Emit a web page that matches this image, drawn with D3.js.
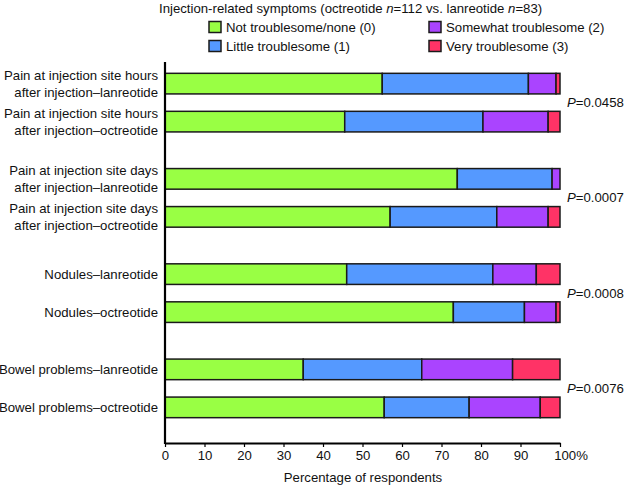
<!DOCTYPE html>
<html>
<head>
<meta charset="utf-8">
<script src="https://cdn.jsdelivr.net/npm/d3@7"></script>
<style>
  body { margin: 0; background: #fff; }
  text { font-family: "Liberation Sans", Arial, sans-serif; fill: #111; }
</style>
</head>
<body>
<svg id="chart" width="624" height="487"></svg>
<script>
// categories (top to bottom), each label split over lines
const groups = ["hours", "days", "nodules", "bowel"];
const rows = [
  { group: "hours", lines: ["Pain at injection site hours", "after injection\u2013lanreotide"] },
  { group: "hours", lines: ["Pain at injection site hours", "after injection\u2013octreotide"] },
  { group: "days", lines: ["Pain at injection site days", "after injection\u2013lanreotide"] },
  { group: "days", lines: ["Pain at injection site days", "after injection\u2013octreotide"] },
  { group: "nodules", lines: ["Nodules\u2013lanreotide"] },
  { group: "nodules", lines: ["Nodules\u2013octreotide"] },
  { group: "bowel", lines: ["Bowel problems\u2013lanreotide"] },
  { group: "bowel", lines: ["Bowel problems\u2013octreotide"] }
];

// series values (% of respondents), one entry per row
const notTroublesome = [55, 45.5, 74, 57, 46, 73, 35, 55.5];
const littleTroublesome = [37, 35, 24, 27, 37, 18, 30, 21.5];
const somewhatTroublesome = [7, 16.5, 2, 13, 11, 8, 23, 18];
const veryTroublesome = [1, 3, 0, 3, 6, 1, 12, 5];

const seriesNames = ["Not troublesome/none (0)", "Little troublesome (1)",
  "Somewhat troublesome (2)", "Very troublesome (3)"];
const seriesColors = ["#99ff44", "#5599ff", "#aa44ff", "#ff3366"];

const pValues = ["0.0458", "0.0007", "0.0008", "0.0076"];
const xTicks = [0, 10, 20, 30, 40, 50, 60, 70, 80, 90, 100];

const svg = d3.select("#chart");
const fs = 13.2;

// scales
let x = d3.scaleLinear().domain([0, 100]).range([165, 560]);
let yGroup = d3.scaleBand().domain(groups).range([55, 436]);
const barH = 20.6, rowGap = 38;

// build stacked data
const table = rows.map((r, i) => ({
  i: i,
  group: r.group,
  lines: r.lines,
  k: rows.filter((q, j) => j < i && q.group === r.group).length,
  v0: notTroublesome[i], v1: littleTroublesome[i],
  v2: somewhatTroublesome[i], v3: veryTroublesome[i]
}));
const stack = d3.stack().keys(["v0", "v1", "v2", "v3"])(table);

function rowCenter(d) {
  return yGroup(d.group) + yGroup.bandwidth() / 2 + (d.k - 0.5) * rowGap;
}

// bars
svg.append("g")
  .selectAll("g")
  .data(stack)
  .enter().append("g")
  .attr("fill", (s, j) => seriesColors[j])
  .selectAll("rect")
  .data(s => s)
  .enter().append("rect")
  .attr("x", d => x(d[0]))
  .attr("y", d => rowCenter(d.data) - barH / 2)
  .attr("width", d => x(d[1]) - x(d[0]))
  .attr("height", barH)
  .attr("stroke", "#1a1a1a")
  .attr("stroke-width", 1.5);

// row labels
let labels = svg.append("g")
  .selectAll("text")
  .data(table)
  .enter().append("text")
  .attr("text-anchor", "end")
  .attr("font-size", fs)
  .attr("x", 158)
  .attr("y", d => rowCenter(d));
labels.selectAll("tspan")
  .data(d => d.lines.map((l, j) => ({ l: l, j: j, n: d.lines.length })))
  .enter().append("tspan")
  .attr("x", 158)
  .attr("dy", t => t.j === 0 ? (t.n === 1 ? "0.35em" : "-0.3em") : "1.3em")
  .text(t => t.l);

// P values
svg.append("g")
  .selectAll("text")
  .data(groups)
  .enter().append("text")
  .attr("x", 567)
  .attr("y", (g, j) => yGroup(g) + yGroup.bandwidth() / 2)
  .attr("dy", "0.35em")
  .attr("font-size", fs)
  .each(function(g, j) {
    d3.select(this).append("tspan").attr("font-style", "italic").text("P");
    d3.select(this).append("tspan").text("=" + pValues[j]);
  });

// x axis
let xAxis = svg.append("g")
  .attr("transform", "translate(0,443)")
  .call(d3.axisBottom(x).tickValues(xTicks).tickSize(4).tickSizeOuter(0)
    .tickFormat(d => d === 100 ? "100%" : d));
xAxis.select(".domain").attr("stroke", "#000").attr("stroke-width", 2.2);
xAxis.selectAll(".tick line").attr("stroke", "#000").attr("stroke-width", 1.2);
xAxis.selectAll(".tick text")
  .attr("font-family", "Liberation Sans, Arial, sans-serif")
  .attr("font-size", fs)
  .attr("fill", "#111")
  .attr("y", 8);
xAxis.selectAll(".tick").filter(d => d === 100).select("text").attr("dx", "0.8em");

// y axis line
svg.append("line")
  .attr("x1", x(0)).attr("x2", x(0))
  .attr("y1", 62).attr("y2", 444)
  .attr("stroke", "#000").attr("stroke-width", 2.2);

// axis title
svg.append("text")
  .attr("x", 363).attr("y", 482)
  .attr("text-anchor", "middle")
  .attr("font-size", fs)
  .text("Percentage of respondents");

// chart title
let title = svg.append("text")
  .attr("x", 159).attr("y", 13)
  .attr("font-size", fs);
title.append("tspan").text("Injection-related symptoms (octreotide ");
title.append("tspan").attr("font-style", "italic").text("n");
title.append("tspan").text("=112 vs. lanreotide ");
title.append("tspan").attr("font-style", "italic").text("n");
title.append("tspan").text("=83)");

// legend
const legendPos = [[209, 21.5], [209, 40.5], [429, 21.5], [429, 40.5]];
let legend = svg.append("g")
  .selectAll("g")
  .data(seriesNames)
  .enter().append("g")
  .attr("transform", (n, j) => "translate(" + legendPos[j][0] + "," + legendPos[j][1] + ")");
legend.append("rect")
  .attr("width", 12).attr("height", 11)
  .attr("fill", (n, j) => seriesColors[j])
  .attr("stroke", "#1a1a1a").attr("stroke-width", 1.5);
legend.append("text")
  .attr("x", 17).attr("y", 5.5).attr("dy", "0.35em")
  .attr("font-size", fs)
  .text(n => n);
</script>
</body>
</html>
